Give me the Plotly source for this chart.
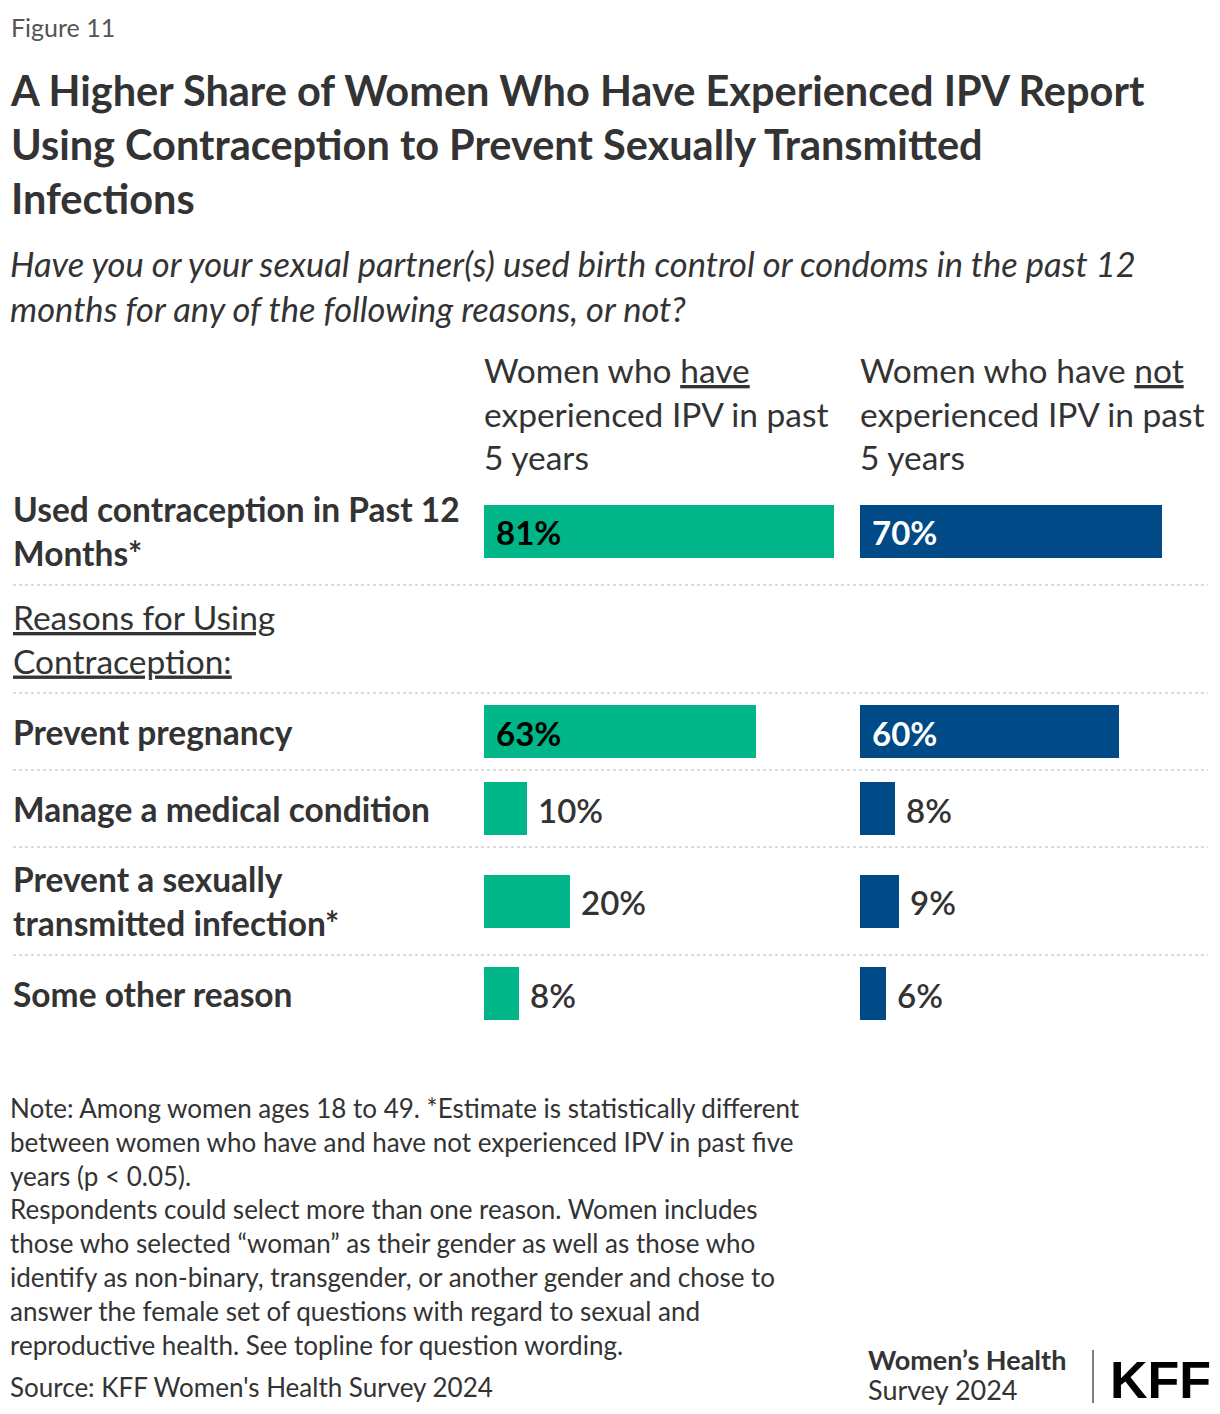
import plotly.graph_objects as go

# ---------------- data ----------------
row_labels = [
    "Used contraception in Past 12<br>Months*",
    "<u>Reasons for Using</u><br><u>Contraception:</u>",
    "Prevent pregnancy",
    "Manage a medical condition",
    "Prevent a sexually<br>transmitted infection*",
    "Some other reason",
]
row_is_header = [False, True, False, False, False, False]
have_ipv = [81, None, 63, 10, 20, 8]
not_ipv = [70, None, 60, 8, 9, 6]
series_names = [
    "Women who <u>have</u><br>experienced IPV in past<br>5 years",
    "Women who have <u>not</u><br>experienced IPV in past<br>5 years",
]

title_text = ("A Higher Share of Women Who Have Experienced IPV Report<br>"
              "Using Contraception to Prevent Sexually Transmitted<br>Infections")
subtitle_text = ("Have you or your sexual partner(s) used birth control or condoms in the past 12<br>"
                 "months for any of the following reasons, or not?")
note_text = ("Note: Among women ages 18 to 49. *Estimate is statistically different<br>"
             "between women who have and have not experienced IPV in past five<br>"
             "years (p &lt; 0.05).<br>"
             "Respondents could select more than one reason. Women includes<br>"
             "those who selected “woman” as their gender as well as those who<br>"
             "identify as non-binary, transgender, or another gender and chose to<br>"
             "answer the female set of questions with regard to sexual and<br>"
             "reproductive health. See topline for question wording.")
source_text = "Source: KFF Women's Health Survey 2024"

# ---------------- layout / style ----------------
W, H = 1220, 1414
FONT = "Lato, 'Source Sans Pro', sans-serif"
TXT = "#333333"
GREEN = "#00B587"
BLUE = "#004A87"
SEP = "#cfcfcf"

PX_PER_PCT = 4.32
COL_X = [484, 860]
COL_RANGE = [84, 81]
CHART_TOP = 477
ROW_PAD, ROW_LINE = 46, 31
BAR_H = 53


def px(x):
    return x / W


def py(y):
    return 1 - y / H


# row geometry from number of label lines
row_heights = [ROW_PAD + ROW_LINE * (lbl.count("<br>") + 1) for lbl in row_labels]
bounds = [0]
for h in row_heights:
    bounds.append(bounds[-1] + h)
total = bounds[-1]
centers = [(bounds[i] + bounds[i + 1]) / 2 for i in range(len(row_labels))]

fig = go.Figure()
annotations = []
series = [(have_ipv, GREEN, "black", "x"), (not_ipv, BLUE, "white", "x2")]
for vals, col, inside_col, xa in series:
    xs = [v for v in vals if v is not None]
    ys = [c for v, c in zip(vals, centers) if v is not None]
    fig.add_trace(go.Bar(
        x=xs, y=ys, orientation="h", width=BAR_H,
        marker=dict(color=col, line=dict(width=0)),
        xaxis=xa, yaxis="y", hoverinfo="skip", showlegend=False,
    ))
    for v, c in zip(xs, ys):
        inside = v >= 30
        annotations.append(dict(
            xref=xa, yref="y", x=0 if inside else v, y=c,
            xanchor="left", yanchor="middle", xshift=10 if inside else 9, yshift=-1,
            text=f"<b>{v}%</b>" if inside else f"{v}%", showarrow=False,
            font=dict(family=FONT, size=33, color=inside_col if inside else TXT,
                      weight=None if inside else 600),
        ))

# row labels
for lbl, c, hdr in zip(row_labels, centers, row_is_header):
    annotations.append(dict(
        xref="paper", yref="y", x=px(11), y=c, xanchor="left", yanchor="middle",
        align="left", showarrow=False, text=lbl if hdr else f"<b>{lbl}</b>",
        font=dict(family=FONT, size=33.5, color=TXT),
    ))

# separators
shapes = []
for b in bounds[1:-1]:
    shapes.append(dict(type="line", xref="paper", yref="y", x0=px(13), x1=px(1208),
                       y0=b, y1=b, line=dict(color=SEP, width=1.5, dash="dot")))

# column headers
for name, cx in zip(series_names, COL_X):
    annotations.append(dict(
        xref="paper", yref="paper", x=px(cx - 2), y=py(413), xanchor="left", yanchor="middle",
        align="left", showarrow=False, text=name,
        font=dict(family=FONT, size=33.5, color=TXT),
    ))

# titles and notes
annotations += [
    dict(xref="paper", yref="paper", x=px(9), y=py(27), xanchor="left", yanchor="middle",
         showarrow=False, text="Figure 11", font=dict(family=FONT, size=25, color="#555555")),
    dict(xref="paper", yref="paper", x=px(8), y=py(144), xanchor="left", yanchor="middle",
         align="left", showarrow=False, text=f"<b>{title_text}</b>",
         font=dict(family=FONT, size=41.5, color=TXT)),
    dict(xref="paper", yref="paper", x=px(8), y=py(286), xanchor="left", yanchor="middle",
         align="left", showarrow=False, text=f"<i>{subtitle_text}</i>",
         font=dict(family=FONT, size=34.5, color=TXT)),
    dict(xref="paper", yref="paper", x=px(8), y=py(1226), xanchor="left", yanchor="middle",
         align="left", showarrow=False, text=note_text,
         font=dict(family=FONT, size=26, color=TXT)),
    dict(xref="paper", yref="paper", x=px(8), y=py(1387), xanchor="left", yanchor="middle",
         align="left", showarrow=False, text=source_text,
         font=dict(family=FONT, size=26, color=TXT)),
    dict(xref="paper", yref="paper", x=px(866), y=py(1359), xanchor="left", yanchor="middle",
         showarrow=False, text="<b>Women’s Health</b>",
         font=dict(family=FONT, size=27, color=TXT)),
    dict(xref="paper", yref="paper", x=px(866), y=py(1389), xanchor="left", yanchor="middle",
         showarrow=False, text="Survey 2024",
         font=dict(family=FONT, size=27, color=TXT)),
    dict(xref="paper", yref="paper", x=px(1213), y=py(1380), xanchor="right", yanchor="middle",
         showarrow=False, text="<b>KFF</b>",
         font=dict(family="Liberation Sans, Arial, sans-serif", size=52, color="black")),
]
shapes.append(dict(type="line", xref="paper", yref="paper", x0=px(1093), x1=px(1093),
                   y0=py(1350), y1=py(1403), line=dict(color="#555555", width=1.5)))

fig.update_layout(
    width=W, height=H, margin=dict(l=0, r=0, t=0, b=0),
    paper_bgcolor="white", plot_bgcolor="white",
    barmode="overlay", bargap=0,
    xaxis=dict(domain=[px(COL_X[0]), px(COL_X[0] + COL_RANGE[0] * PX_PER_PCT)],
               range=[0, COL_RANGE[0]], visible=False, fixedrange=True),
    xaxis2=dict(domain=[px(COL_X[1]), px(COL_X[1] + COL_RANGE[1] * PX_PER_PCT)],
                range=[0, COL_RANGE[1]], visible=False, anchor="y", fixedrange=True),
    yaxis=dict(domain=[py(CHART_TOP + total), py(CHART_TOP)], range=[total, 0],
               visible=False, fixedrange=True),
    annotations=annotations, shapes=shapes,
    font=dict(family=FONT, color=TXT),
)

fig.write_html(
    "out.html",
    config={"displayModeBar": False},
    post_script="document.body.style.margin='0';document.body.style.overflow='hidden';",
)
